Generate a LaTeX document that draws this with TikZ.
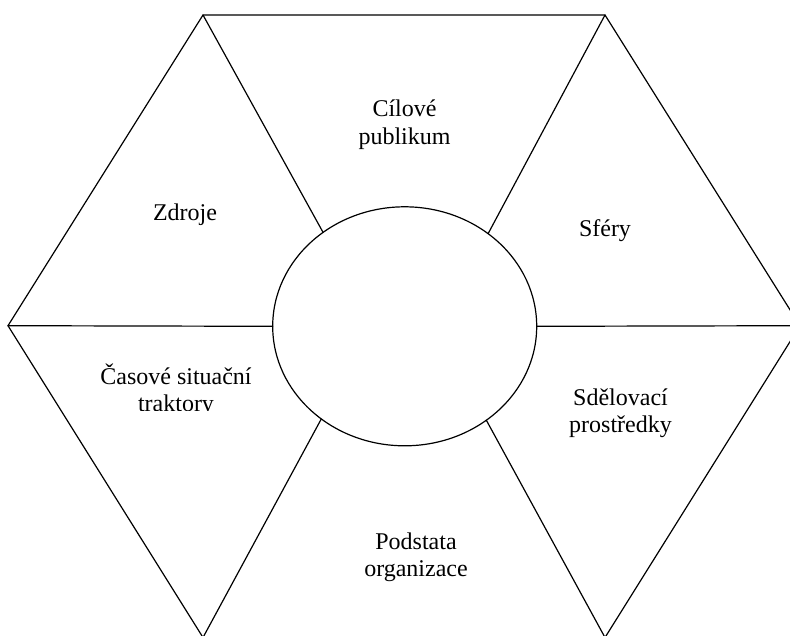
\documentclass[tikz,border=0pt]{standalone}
\usepackage{fontspec}
\setmainfont{Liberation Serif}
\usetikzlibrary{shapes.geometric}
\tikzset{
  edge/.style={line width=1.2pt, line cap=round, line join=miter},
  lbl/.style={font=\fontsize{24}{27.6}\selectfont, inner sep=0pt, align=center, anchor=base},
  hub/.style={ellipse, draw, line width=1.2pt, fill=white, minimum width=264pt, minimum height=239pt, inner sep=0pt, outer sep=0pt}
}
\begin{document}
\begin{tikzpicture}[x=1pt,y=-1pt]
\useasboundingbox (0,0) rectangle (790,635);
\clip (0,0) rectangle (790,635);
\coordinate (L)  at (8,325.7);
\coordinate (TL) at (203,15);
\coordinate (TR) at (605,15);
\coordinate (R)  at (800,325.7);
\coordinate (BR) at (605,637.5);
\coordinate (BL) at (203,637.5);
\node[hub] (e) at (404.7,326.3) {};
\draw[edge] (L) -- (TL) -- (TR) -- (R) -- (BR) -- (BL) -- cycle;
\draw[edge] (L) -- (e.west);
\draw[edge] (R) -- (e.east);
\draw[edge] (TL) -- (e.131.5);
\draw[edge] (TR) -- (e.48.5);
\draw[edge] (BL) -- (e.228.5);
\draw[edge] (BR) -- (e.311.5);
% base anchor of a two-line node = baseline of its last line
\node[lbl] (t1) at (404.5,144.5) {Cílové\\publikum};
\node[lbl] (t2) at (185,220.7) {Zdroje};
\node[lbl] (t3) at (605,236.7) {Sféry};
\node[lbl] (t5) at (620.5,432.6) {Sdělovací\\prostředky};
\node[lbl] (t6) at (416,576.7) {Podstata\\organizace};
\begin{scope}
\clip (0,0) rectangle (790,410.5);
\node[lbl] (t4) at (176,411.6) {Časové situační\\traktory};
\end{scope}
\end{tikzpicture}
\end{document}
